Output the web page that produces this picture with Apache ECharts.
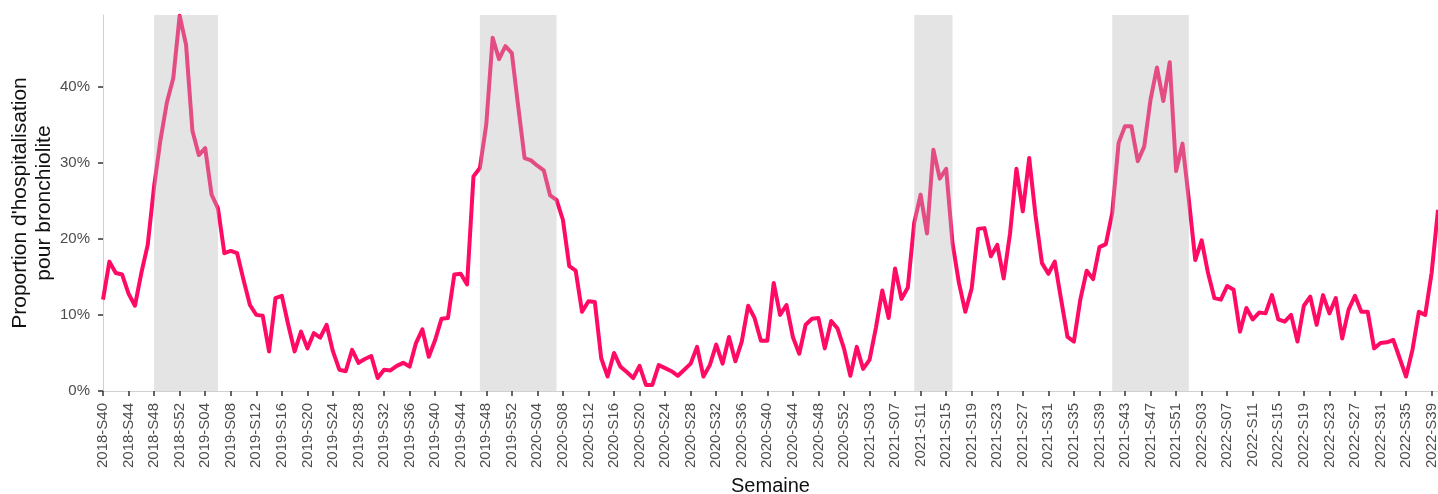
<!DOCTYPE html>
<html>
<head>
<meta charset="utf-8">
<script src="https://cdn.jsdelivr.net/npm/echarts@6/dist/echarts.min.js"></script>
<style>
  html, body { margin: 0; padding: 0; background: #fff; }
  #chart { width: 1438px; height: 494px; }
</style>
</head>
<body>
<div id="chart"></div>
<script>
// semaines ISO : 2018-S40 .. 2022-S40
const years = [2018, 2019, 2020, 2021, 2022]
const firstWeek = [40, 1, 1, 1, 1]
const lastWeek = [52, 52, 53, 52, 40]

const weeks = []
years.forEach((y, k) => {
  for (let w = firstWeek[k]; w <= lastWeek[k]; w++) {
    weeks.push(y + '-S' + String(w).padStart(2, '0'))
  }
})

// proportion d'hospitalisation pour bronchiolite (%)
const proportion = [
  12.0, 17.0, 15.5, 15.3, 12.8, 11.2, 15.5, 19.2, 26.9, 33.0,
  37.9, 41.1, 49.3, 45.5, 34.2, 31.0, 31.9, 25.8, 24.0, 18.1,
  18.4, 18.1, 14.6, 11.3, 10.0, 9.9, 5.2, 12.2, 12.5, 8.7,
  5.2, 7.8, 5.6, 7.6, 7.0, 8.7, 5.2, 2.8, 2.6, 5.4,
  3.7, 4.2, 4.6, 1.7, 2.8, 2.7, 3.3, 3.7, 3.2, 6.3,
  8.1, 4.5, 6.7, 9.5, 9.6, 15.3, 15.4, 14.0, 28.2, 29.3,
  35.0, 46.4, 43.6, 45.3, 44.4, 37.4, 30.6, 30.3, 29.6, 29.0,
  25.7, 25.1, 22.5, 16.4, 15.8, 10.4, 11.8, 11.7, 4.3, 1.9,
  5.0, 3.2, 2.5, 1.7, 3.3, 0.8, 0.8, 3.4, 3.0, 2.6,
  2.0, 2.8, 3.6, 5.8, 1.9, 3.4, 6.1, 3.6, 7.1, 3.9,
  6.5, 11.2, 9.6, 6.6, 6.6, 14.2, 10.0, 11.3, 7.1, 4.9,
  8.7, 9.5, 9.6, 5.6, 9.2, 8.2, 5.6, 2.0, 5.8, 2.9,
  4.1, 8.3, 13.2, 9.6, 16.1, 12.1, 13.6, 22.1, 25.8, 20.7,
  31.7, 27.9, 29.2, 19.4, 14.2, 10.4, 13.5, 21.3, 21.4, 17.7,
  19.2, 14.8, 20.7, 29.2, 23.6, 30.6, 23.0, 16.8, 15.4, 17.0,
  12.0, 7.1, 6.5, 12.0, 15.8, 14.7, 18.9, 19.3, 23.4, 32.6,
  34.8, 34.8, 30.2, 32.1, 38.3, 42.5, 38.1, 43.2, 28.9, 32.5,
  25.1, 17.2, 19.8, 15.5, 12.2, 12.0, 13.8, 13.3, 7.8, 10.9,
  9.4, 10.3, 10.2, 12.6, 9.4, 9.1, 10.0, 6.5, 11.2, 12.4,
  8.7, 12.6, 10.2, 12.2, 6.9, 10.7, 12.5, 10.4, 10.4, 5.6,
  6.3, 6.4, 6.7, 4.3, 1.9, 5.4, 10.4, 10.0, 15.5, 23.8
]

// périodes épidémiques (zones grisées)
const epidemicStart = ['2018-S48', '2019-S47', '2021-S10', '2021-S41']
const epidemicEnd = ['2019-S06', '2020-S07', '2021-S16', '2022-S01']

const yTicks = [0, 10, 20, 30, 40]

const chart = echarts.init(document.getElementById('chart'))

const tickColor = '#333333'
const labelColor = '#4d4d4d'

// les zones grisées sont dessinées par-dessus la courbe (transparence)
const periods = epidemicStart.map((s, k) => [weeks.indexOf(s), weeks.indexOf(epidemicEnd[k])])

chart.setOption({
  animation: false,
  textStyle: { fontFamily: 'Liberation Sans, Arial, sans-serif' },
  grid: { left: 103, right: 0, top: 15, bottom: 103, containLabel: false, outerBoundsMode: 'none' },
  xAxis: {
    type: 'category',
    data: weeks,
    boundaryGap: false,
    name: 'Semaine',
    nameLocation: 'middle',
    nameGap: 85,
    nameMoveOverlap: false,
    nameTextStyle: { fontSize: 20, color: '#111' },
    axisLine: { lineStyle: { color: '#d0d0d0', width: 1 } },
    axisTick: { interval: 3, length: 5, lineStyle: { color: tickColor, width: 1.5 } },
    axisLabel: { interval: 3, rotate: 90, fontSize: 15, color: labelColor, margin: 12 },
    splitLine: { show: false }
  },
  yAxis: {
    type: 'value',
    min: 0,
    max: 49.4,
    name: "Proportion d'hospitalisation\npour bronchiolite",
    nameLocation: 'middle',
    nameRotate: 90,
    nameGap: 47,
    nameMoveOverlap: false,
    nameTextStyle: { fontSize: 21, color: '#111', lineHeight: 24 },
    axisLine: { show: true, lineStyle: { color: '#d0d0d0', width: 1 } },
    axisTick: { show: true, length: 5, customValues: yTicks, lineStyle: { color: tickColor, width: 1.5 } },
    axisLabel: { customValues: yTicks, formatter: '{value}%', fontSize: 15, color: labelColor, margin: 13 },
    splitLine: { show: false }
  },
  series: [
    {
      type: 'line',
      data: proportion,
      showSymbol: false,
      smooth: false,
      z: 2,
      lineStyle: { color: '#ff0a64', width: 4, join: 'round' }
    },
    {
      type: 'custom',
      z: 5,
      silent: true,
      data: periods,
      renderItem: (params, api) => {
        const p0 = api.coord([api.value(0), 0])
        const p1 = api.coord([api.value(1), 0])
        const top = params.coordSys.y
        const h = params.coordSys.height
        return {
          type: 'rect',
          shape: { x: p0[0], y: top, width: p1[0] - p0[0], height: h },
          style: { fill: 'rgba(185,185,185,0.38)' }
        }
      }
    }
  ]
})
</script>
</body>
</html>
